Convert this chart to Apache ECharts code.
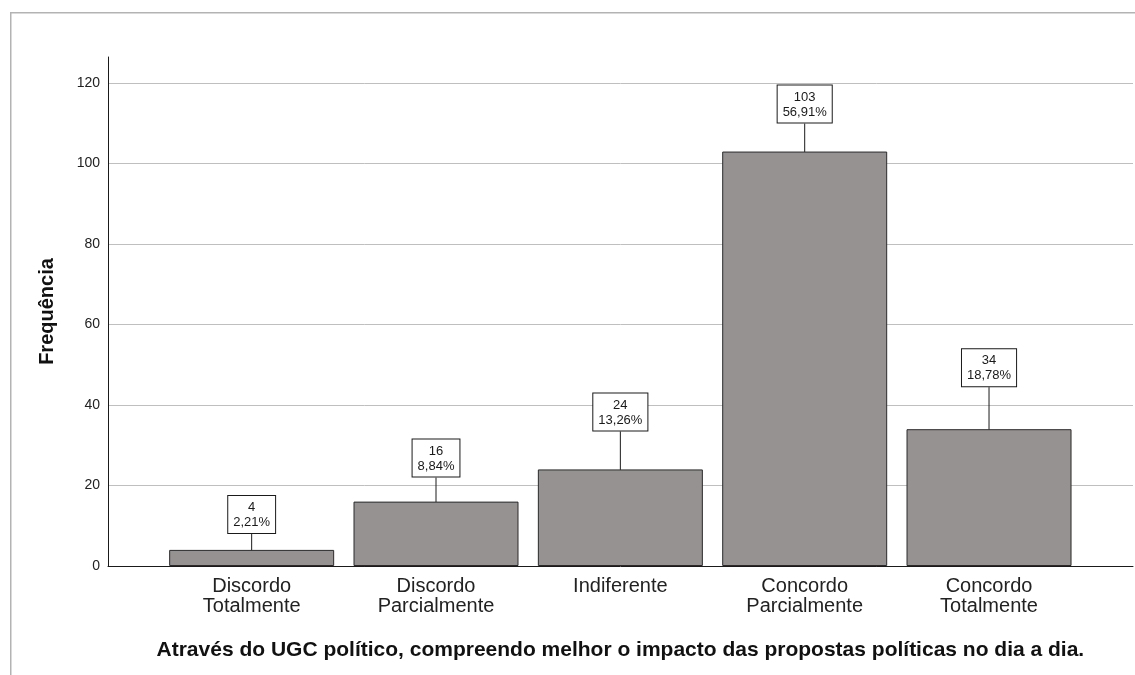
<!DOCTYPE html>
<html>
<head>
<meta charset="utf-8">
<script src="https://cdn.jsdelivr.net/npm/echarts@6/dist/echarts.min.js"></script>
<style>html,body{margin:0;padding:0;background:#fff}#c{width:1135px;height:675px}</style>
</head>
<body>
<div id="c"></div>
<script>
const categories = ['Discordo\nTotalmente', 'Discordo\nParcialmente', 'Indiferente', 'Concordo\nParcialmente', 'Concordo\nTotalmente'];
const counts = [4, 16, 24, 103, 34];
const percentLabels = ['2,21%', '8,84%', '13,26%', '56,91%', '18,78%'];
const yTicks = [0, 20, 40, 60, 80, 100, 120];

const FONT = '"Liberation Sans", Arial, sans-serif';
const leaderLen = [17, 25, 39, 29, 43];
const Y_MAX = 126.5;

const chart = echarts.init(document.getElementById('c'), null, {renderer: 'canvas'});
chart.setOption({
  backgroundColor: '#ffffff',
  animation: false,
  textStyle: {fontFamily: FONT},
  graphic: [{
    type: 'rect', shape: {x: 10.75, y: 12.75, width: 1300, height: 800},
    style: {fill: 'none', stroke: '#b3b3b3', lineWidth: 1.5}, silent: true, z: 0
  }],
  grid: [
    {left: 108, right: 2, top: 57, bottom: 109},
    {left: 159.5, right: 53.8, top: 57, bottom: 109}
  ],
  xAxis: [
    {gridIndex: 0, type: 'value', min: 0, max: 1, show: true,
     axisLine: {show: true, onZero: false, lineStyle: {color: '#1a1a1a', width: 1}},
     axisTick: {show: false}, axisLabel: {show: false}, splitLine: {show: false}},
    {gridIndex: 1, type: 'category', data: categories,
     axisLine: {show: false}, axisTick: {show: false},
     axisLabel: {fontSize: 20, color: '#222', lineHeight: 20, margin: 10, fontFamily: FONT, interval: 0},
     name: 'Através do UGC político, compreendo melhor o impacto das propostas políticas no dia a dia.',
     nameLocation: 'middle', nameGap: 74,
     nameTextStyle: {fontSize: 21, fontWeight: 'bold', color: '#111', fontFamily: FONT}}
  ],
  yAxis: [
    {gridIndex: 0, type: 'value', min: yTicks[0], max: Y_MAX, interval: yTicks[1] - yTicks[0],
     axisLine: {show: true, lineStyle: {color: '#1a1a1a', width: 1}},
     axisTick: {show: false},
     axisLabel: {fontSize: 14, color: '#222', margin: 8, fontFamily: FONT, showMaxLabel: false,
       formatter: v => (yTicks.indexOf(v) >= 0 ? String(v) : '')},
     splitLine: {show: true, showMaxLine: false, showMinLine: false, lineStyle: {color: '#bfbfbf', width: 1}},
     name: 'Frequência', nameLocation: 'middle', nameRotate: 90, nameGap: 51,
     nameTextStyle: {fontSize: 20, fontWeight: 'bold', color: '#111', fontFamily: FONT}},
    {gridIndex: 1, type: 'value', min: yTicks[0], max: Y_MAX, show: false, splitLine: {show: false}}
  ],
  series: [{
    type: 'bar', xAxisIndex: 1, yAxisIndex: 1, data: counts, barWidth: 165,
    itemStyle: {color: '#979292', borderColor: '#2a2a2a', borderWidth: 1},
    label: {
      show: true, position: 'top', distance: 0,
      formatter: p => p.value + '\n' + percentLabels[p.dataIndex],
      fontSize: 13, lineHeight: 15, color: '#1a1a1a', fontFamily: FONT,
      backgroundColor: '#ffffff', borderColor: '#1a1a1a', borderWidth: 1, padding: [4, 5, 3, 5]
    },
    labelLayout: p => ({dy: -leaderLen[p.dataIndex]}),
    labelLine: {show: true, lineStyle: {color: '#1a1a1a', width: 1}},
    z: 3
  }]
});
</script>
</body>
</html>
